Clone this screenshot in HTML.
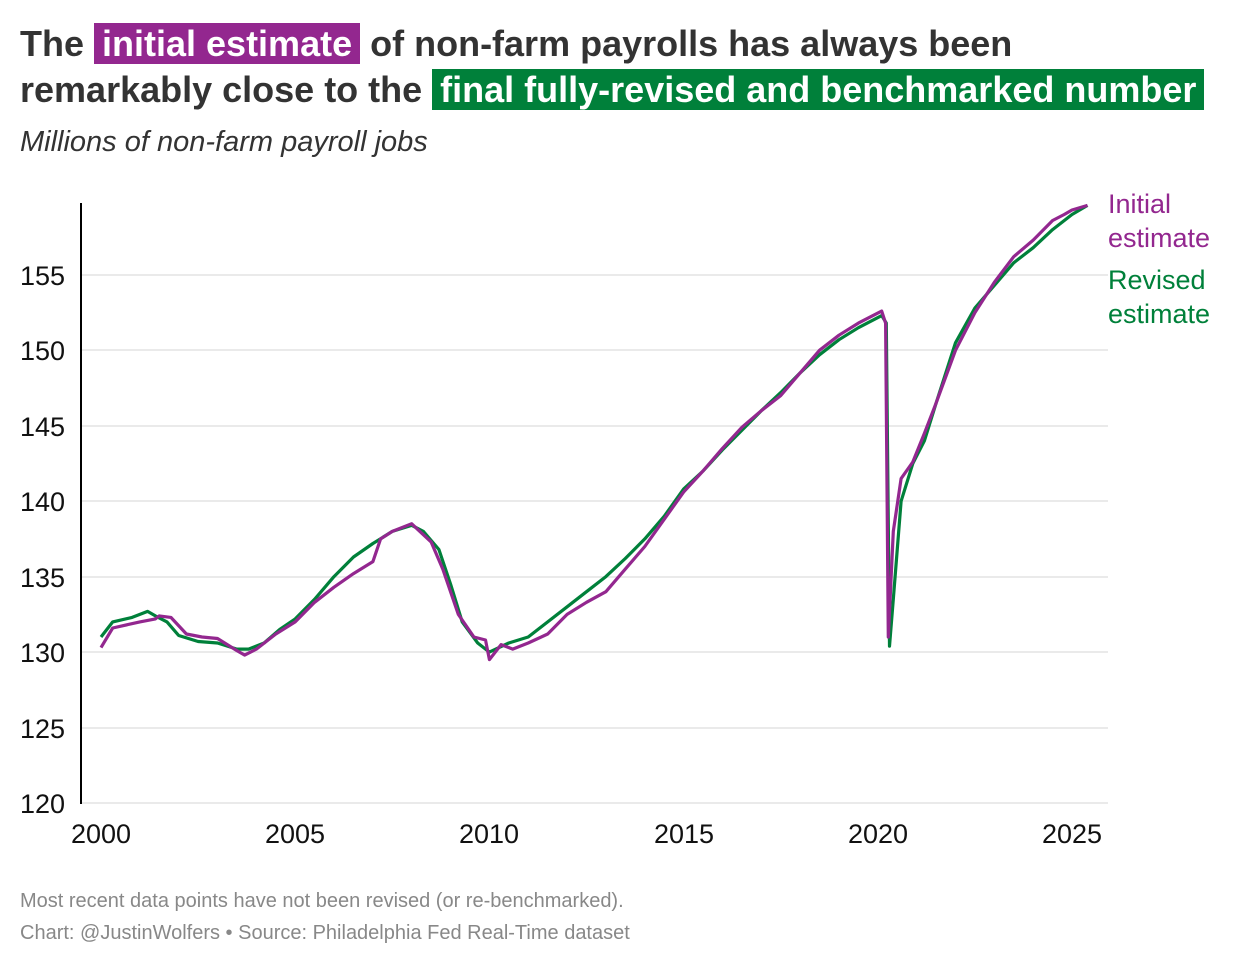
<!DOCTYPE html>
<html><head><meta charset="utf-8"><style>
body{margin:0;width:1240px;height:964px;background:#fff;font-family:"Liberation Sans",sans-serif;position:relative;overflow:hidden}
.t{position:absolute;font-weight:bold;font-size:36px;color:#333;white-space:nowrap;line-height:47px}
.hp{background:#93278f;color:#fff;padding:0 8px}
.hg{background:#00803a;color:#fff;padding:0 8px}
.sub{position:absolute;left:20px;top:126px;font-style:italic;font-size:29px;color:#333}
.f{position:absolute;left:20px;font-size:20px;color:#888}
</style></head><body>
<div class="t" style="left:20px;top:20px">The <span class="hp">initial estimate</span> of non-farm payrolls has always been</div>
<div class="t" style="left:20px;top:66px">remarkably close to the <span class="hg">final fully-revised and benchmarked number</span></div>
<div class="sub">Millions of non-farm payroll jobs</div>
<svg id="c" width="1240" height="964" style="position:absolute;left:0;top:0" font-family="Liberation Sans, sans-serif">
<g stroke="#e3e3e3" stroke-width="1.5">
<line x1="81" x2="1108" y1="803" y2="803"/><line x1="81" x2="1108" y1="728" y2="728"/><line x1="81" x2="1108" y1="652" y2="652"/><line x1="81" x2="1108" y1="577" y2="577"/><line x1="81" x2="1108" y1="501" y2="501"/><line x1="81" x2="1108" y1="426" y2="426"/><line x1="81" x2="1108" y1="350" y2="350"/><line x1="81" x2="1108" y1="275" y2="275"/>
</g>
<line x1="81" x2="81" y1="203" y2="804" stroke="#000" stroke-width="2"/>
<g font-size="27" fill="#111" text-anchor="start">
<text x="20" y="813">120</text><text x="20" y="738">125</text><text x="20" y="662">130</text><text x="20" y="587">135</text><text x="20" y="511">140</text><text x="20" y="436">145</text><text x="20" y="360">150</text><text x="20" y="285">155</text>
</g>
<g font-size="27" fill="#111" text-anchor="middle">
<text x="101" y="843">2000</text><text x="295" y="843">2005</text><text x="489" y="843">2010</text><text x="684" y="843">2015</text><text x="878" y="843">2020</text><text x="1072" y="843">2025</text>
</g>
<polyline id="g" fill="none" stroke="#00803a" stroke-width="3.2" stroke-linejoin="round"/>
<polyline id="p" fill="none" stroke="#93278f" stroke-width="3.2" stroke-linejoin="round"/>
<g font-size="27">
<text x="1108" y="213" fill="#93278f">Initial</text><text x="1108" y="247" fill="#93278f">estimate</text>
<text x="1108" y="289" fill="#00803a">Revised</text><text x="1108" y="323" fill="#00803a">estimate</text>
</g>
</svg>
<div class="f" style="top:890px">Most recent data points have not been revised (or re-benchmarked).</div>
<div class="f" style="top:922px">Chart: @JustinWolfers • Source: Philadelphia Fed Real-Time dataset</div>
<script>
function X(t){return 101+(t-2000)*38.84}function Y(v){return 803-(v-120)*15.09}
function pts(a){var s=[];for(var i=0;i<a.length;i+=2){s.push(X(a[i]).toFixed(1)+","+Y(a[i+1]).toFixed(1))}return s.join(" ")}
var G=[2000,131,2000.3,132,2000.8,132.3,2001.2,132.7,2001.4,132.4,2001.7,132,2002,131.1,2002.5,130.7,2003,130.6,2003.5,130.2,2003.8,130.2,2004.2,130.6,2004.6,131.5,2005,132.2,2005.5,133.5,2006,135,2006.5,136.3,2007,137.2,2007.5,138,2008,138.4,2008.3,138,2008.7,136.8,2009,134.5,2009.3,132,2009.7,130.6,2010,130,2010.5,130.6,2011,131,2011.5,132,2012,133,2012.5,134,2013,135,2013.5,136.2,2014,137.5,2014.5,139,2015,140.8,2015.5,142,2016,143.4,2016.5,144.7,2017,146,2017.5,147.2,2018,148.5,2018.5,149.7,2019,150.7,2019.5,151.5,2020.1,152.3,2020.22,151.8,2020.3,130.4,2020.4,133.5,2020.6,140,2020.9,142.5,2021.2,144,2021.5,146.5,2022,150.5,2022.5,152.8,2023,154.3,2023.5,155.8,2024,156.8,2024.5,158,2025,159,2025.4,159.6];
var P=[2000,130.3,2000.3,131.6,2001,132,2001.4,132.2,2001.5,132.4,2001.8,132.3,2002.2,131.2,2002.6,131,2003,130.9,2003.5,130.1,2003.7,129.8,2004,130.2,2004.5,131.2,2005,132,2005.5,133.3,2006,134.3,2006.5,135.2,2007,136,2007.2,137.5,2007.5,138,2008,138.5,2008.5,137.3,2008.8,135.5,2009.2,132.5,2009.6,131,2009.9,130.8,2010,129.5,2010.3,130.5,2010.6,130.2,2011,130.6,2011.5,131.2,2012,132.5,2012.5,133.3,2013,134,2013.5,135.5,2014,137,2014.5,138.8,2015,140.6,2015.5,142,2016,143.5,2016.5,144.9,2017,146,2017.5,147,2018,148.5,2018.5,150,2019,151,2019.5,151.8,2020.1,152.6,2020.2,151.8,2020.27,131,2020.4,138,2020.6,141.5,2020.9,142.6,2021.2,144.5,2021.5,146.5,2022,150,2022.5,152.5,2023,154.5,2023.5,156.2,2024,157.3,2024.5,158.6,2024.8,159,2025,159.3,2025.4,159.6];
document.getElementById("g").setAttribute("points",pts(G));
document.getElementById("p").setAttribute("points",pts(P));
</script>
</body></html>
